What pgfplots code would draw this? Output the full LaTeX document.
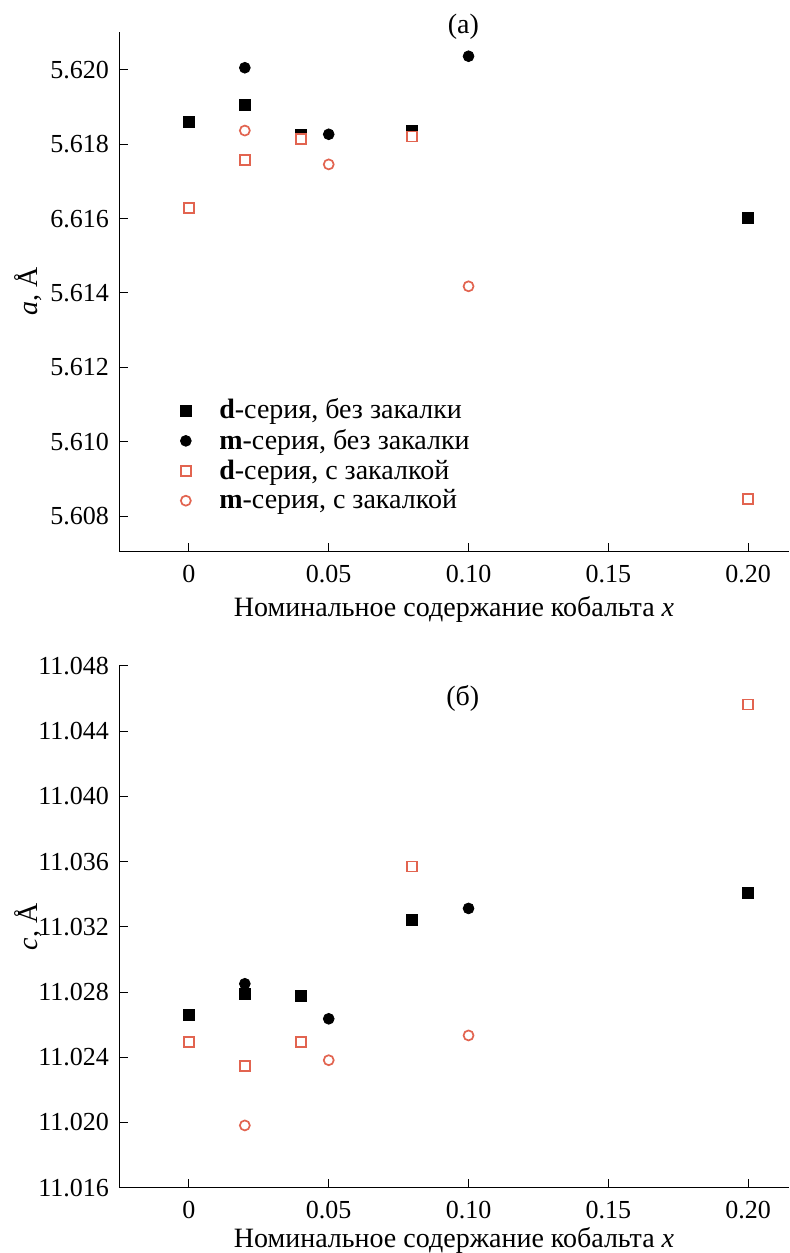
\documentclass[border=0pt]{standalone}
\usepackage{fontspec}
\setmainfont{Liberation Serif}
\usepackage{pgfplots}
\pgfplotsset{compat=1.18}
\definecolor{salmon}{RGB}{226,100,80}

\pgfplotsset{
  common/.style={
    scale only axis,
    width=335pt,
    axis lines*=left,
    tick align=inside,
    major tick length=4.5pt,
    axis line style={line width=0.5pt},
    tick style={line width=0.5pt, black},
    xmin=-0.025, xmax=0.2146,
    xtick={0,0.05,0.1,0.15,0.2},
    xticklabels={0,0.05,0.10,0.15,0.20},
    tick label style={font=\fontsize{13}{15}\selectfont},
    xticklabel style={yshift=-3pt},
    yticklabel style={xshift=-1.5pt},
    label style={font=\fontsize{14}{16}\selectfont},
    xlabel={Номинальное содержание кобальта \textit{x}},
    clip=false,
  },
  dunq/.style={only marks, mark=square*, mark size=2.75pt, black},
  munq/.style={only marks, mark=*, mark size=2.7pt, black},
  dq/.style={only marks, salmon, mark=square*, mark size=2.5pt, mark options={draw=salmon, fill=white, line width=0.9pt}},
  mq/.style={only marks, salmon, mark=*, mark size=2.5pt, mark options={draw=salmon, fill=white, line width=0.85pt}},
}

\begin{document}
\begin{tikzpicture}[font=\fontsize{14}{16}\selectfont]
\useasboundingbox (0,0) rectangle (394.5pt,626.5pt);

\begin{axis}[common,
  at={(59.5pt,350.65pt)}, anchor=south west,
  height=260pt,
  ymin=5.60704, ymax=5.62103,
  ytick={5.608,5.610,5.612,5.614,5.616,5.618,5.620},
  yticklabels={5.608,5.610,5.612,5.614,6.616,5.618,5.620},
  ylabel={\textit{a}, Å},
  every axis x label/.style={at={(axis description cs:0.5,-0.1115)}, anchor=center},
  every axis y label/.style={at={(axis description cs:-0.136,0.5)}, anchor=center, rotate=90},
  legend style={at={(axis description cs:0.082,0.31)}, anchor=north west, draw=none, fill=none,
    font=\fontsize{14}{16}\selectfont, row sep=-0.3pt, column sep=12pt},
  legend cell align=left,
]
\addplot[dunq] coordinates {(0,5.61859) (0.02,5.61906) (0.04,5.61826) (0.0798,5.61835) (0.20,5.61602)};
\addlegendentry{\textbf{d}-серия, без закалки}
\addplot[munq] coordinates {(0.02,5.62006) (0.05,5.61827) (0.10,5.62037)};
\addlegendentry{\textbf{m}-серия, без закалки}
\addplot[dq] coordinates {(0,5.61628) (0.02,5.61757) (0.04,5.61814) (0.0798,5.61821) (0.20,5.60846)};
\addlegendentry{\textbf{d}-серия, с закалкой}
\addplot[mq] coordinates {(0.02,5.61837) (0.05,5.61746) (0.10,5.61418)};
\addlegendentry{\textbf{m}-серия, с закалкой}
\node at (axis description cs:0.514,1.01) {(а)};
\end{axis}

\begin{axis}[common,
  at={(59.5pt,32.65pt)}, anchor=south west,
  height=260.85pt,
  ymin=11.016, ymax=11.048,
  ytick={11.016,11.020,11.024,11.028,11.032,11.036,11.040,11.044,11.048},
  yticklabels={11.016,11.020,11.024,11.028,11.032,11.036,11.040,11.044,11.048},
  ylabel={\textit{c}, Å},
  every axis x label/.style={at={(axis description cs:0.5,-0.1016)}, anchor=center},
  every axis y label/.style={at={(axis description cs:-0.136,0.5)}, anchor=center, rotate=90},
]
\addplot[dunq] coordinates {(0,11.02657) (0.02,11.02790) (0.04,11.02775) (0.0798,11.03243) (0.20,11.03411)};
\addplot[munq] coordinates {(0.02,11.02851) (0.05,11.02636) (0.10,11.03313)};
\addplot[dq] coordinates {(0,11.02494) (0.02,11.02345) (0.04,11.02494) (0.0798,11.0357) (0.20,11.04564)};
\addplot[mq] coordinates {(0.02,11.01982) (0.05,11.02382) (0.10,11.02534)};
\node at (axis description cs:0.513,0.9387) {(б)};
\end{axis}
\end{tikzpicture}
\end{document}
